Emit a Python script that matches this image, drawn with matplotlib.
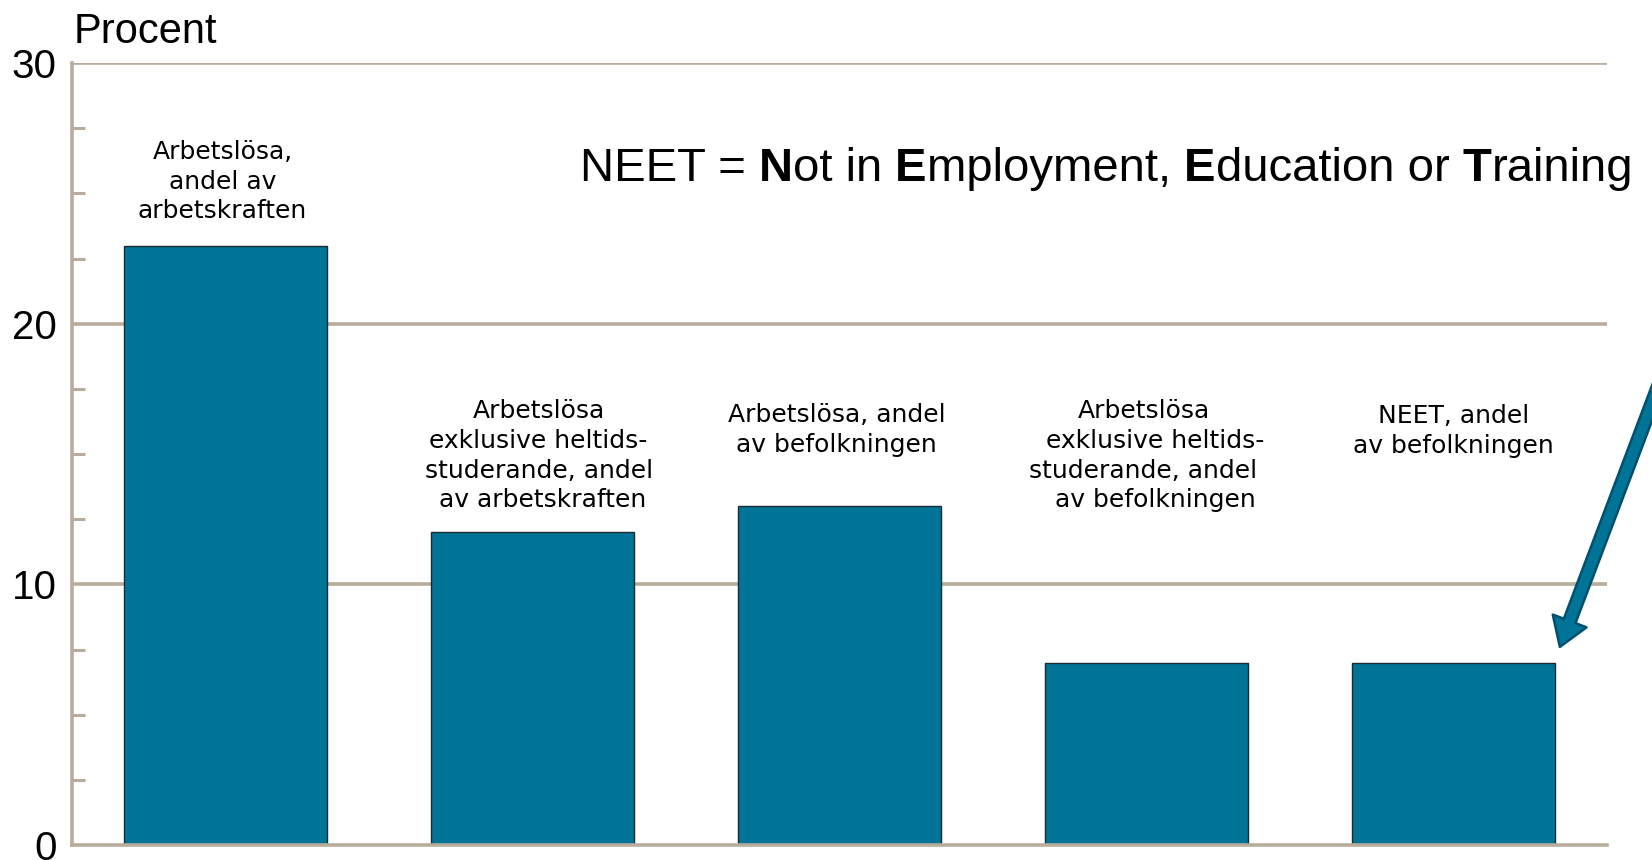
import matplotlib
matplotlib.use("Agg")
import matplotlib.pyplot as plt
from matplotlib.patches import FancyArrowPatch

categories = [
    "Arbetslösa,\nandel av\narbetskraften",
    "Arbetslösa\nexklusive heltids-\nstuderande, andel\n av arbetskraften",
    "Arbetslösa, andel\nav befolkningen",
    "Arbetslösa\n   exklusive heltids-\nstuderande, andel\n   av befolkningen",
    "NEET, andel\nav befolkningen",
]
values = [23.0, 12.0, 13.0, 7.0, 7.0]
yticks = [0, 10, 20, 30]
minor_ticks = [2.5, 5, 7.5, 12.5, 15, 17.5, 22.5, 25, 27.5]
ylabel = "Procent"
neet_pieces = [("NEET = ", "normal"), ("N", "bold"), ("ot in ", "normal"),
               ("E", "bold"), ("mployment, ", "normal"), ("E", "bold"),
               ("ducation or ", "normal"), ("T", "bold"), ("raining", "normal")]

NARROW = ["Liberation Sans Narrow", "Liberation Sans", "DejaVu Sans"]
LABELF = ["DejaVu Sans"]
GRID = "#b8ad9c"
BAR = "#007497"

fig = plt.figure(figsize=(16.52, 8.60), dpi=100)
ax = fig.add_axes([0.0436, 0.0174, 0.9292, 0.9093])

x = list(range(len(values)))
ax.bar(x, values, width=0.66, color=BAR, edgecolor="#1a2a30", linewidth=1.0, zorder=3)

ax.set_xlim(-0.5, len(values) - 0.5)
ax.set_ylim(0, 30)
for yv in yticks[1:]:
    ax.axhline(yv, color=GRID, linewidth=2.6, zorder=1)

ax.set_yticks(yticks)
ax.set_yticklabels([str(v) for v in yticks], fontfamily=NARROW, fontsize=29)
ax.set_yticks(minor_ticks, minor=True)
ax.tick_params(axis="y", which="major", length=0, pad=11)
ax.tick_params(axis="y", which="minor", direction="in", length=9.5, width=2.2, color=GRID)
ax.set_xticks([])

for s in ["top", "right"]:
    ax.spines[s].set_visible(False)
for s in ["left", "bottom"]:
    ax.spines[s].set_color(GRID)
    ax.spines[s].set_linewidth(2.6)
    ax.spines[s].set_zorder(4)

fig.text(74 / 1652, 1 - 32 / 860, ylabel, fontfamily=NARROW, fontsize=30,
         ha="left", va="center")

# bar labels
label_y = [25.45, 14.93, 15.92, 14.93, 15.88]
label_dx = [-0.01, 0.02, -0.01, -0.01, 0.0]
for i, (lab, ly) in enumerate(zip(categories, label_y)):
    ax.text(i + label_dx[i], ly, lab, ha="center", va="center", fontsize=18,
            fontfamily=LABELF, linespacing=1.3, multialignment="center", zorder=5)

# NEET definition with bold initials
prev = None
for txt, w in neet_pieces:
    if prev is None:
        prev = fig.text(580 / 1652, 1 - 191 / 860, txt, fontfamily=NARROW,
                        fontsize=34, fontweight=w, ha="left", va="bottom")
    else:
        prev = ax.annotate(txt, xy=(1, 0), xycoords=prev, fontfamily=NARROW,
                           fontsize=34, fontweight=w, ha="left", va="bottom",
                           annotation_clip=False)

# arrow pointing at the NEET bar
arrow = FancyArrowPatch((4.68, 18.0), (4.343, 7.5),
                        arrowstyle="simple,head_width=1.3,head_length=1.0,tail_width=0.45",
                        mutation_scale=20, facecolor="#007497", edgecolor="#00506e",
                        linewidth=1.8, clip_on=False, zorder=6)
ax.add_patch(arrow)

fig.savefig("out.png", dpi=100)
